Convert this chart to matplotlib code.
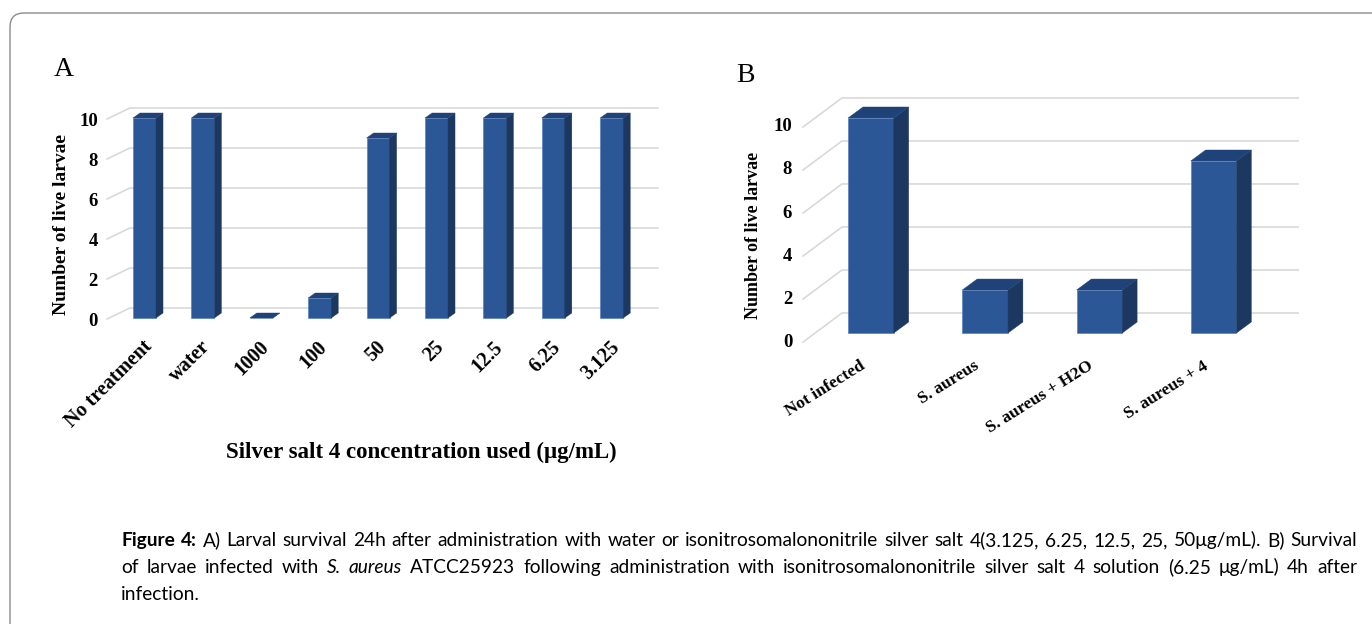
import matplotlib
matplotlib.use('Agg')
import matplotlib.pyplot as plt
from matplotlib.patches import Polygon, FancyBboxPatch
from matplotlib.transforms import IdentityTransform

# данные
cats_a = ['No treatment', 'water', '1000', '100', '50', '25', '12.5', '6.25', '3.125']
vals_a = [10, 10, 0, 1, 9, 10, 10, 10, 10]
cats_b = ['Not infected', 'S. aureus', 'S. aureus + H2O', 'S. aureus + 4']
vals_b = [10, 2, 2, 8]
yticks = [0, 2, 4, 6, 8, 10]

W, H = 1372, 624
FRONT = '#2b5797'
SIDE = '#1c3860'
TOP = '#1f4378'
GRID = '#d9d9d9'
SERIF = 'Liberation Serif'

fig = plt.figure(figsize=(W / 100, H / 100), dpi=100)


def px_axes(l, t, r, b):
    return fig.add_axes([l / W, 1 - b / H, (r - l) / W, (b - t) / H])


def panel(ax, vals, bw, ddx, ddy, fl, bl, xr):
    # сетка на задней стенке + диагонали к передней кромке
    for v in yticks:
        ax.plot([fl[0], bl[0], xr], [v + fl[1], v + bl[1], v + bl[1]],
                color=GRID, lw=1.2, zorder=1, clip_on=False)
    x = list(range(len(vals)))
    ax.bar(x, vals, width=bw, color=FRONT, edgecolor='#4a78bf', linewidth=0.4, zorder=3)
    for i, v in zip(x, vals):
        r = i + bw / 2
        l = i - bw / 2
        ax.add_patch(Polygon([(r, 0), (r + ddx, ddy), (r + ddx, v + ddy), (r, v)],
                             closed=True, fc=SIDE, ec=SIDE, lw=0.3, zorder=3))
        ax.add_patch(Polygon([(l, v), (r, v), (r + ddx, v + ddy), (l + ddx, v + ddy)],
                             closed=True, fc=TOP, ec=TOP, lw=0.3, zorder=3))
    ax.axis('off')


# --- панель A ---
axA = px_axes(100, 95, 660, 330)
axA.set_xlim(-0.762, 8.827)
axA.set_ylim(-0.6, 11.15)
panel(axA, vals_a, 0.394, 0.12, 0.25, (-0.64, -0.05), (-0.25, 0.5), 8.79)
for v in yticks:
    axA.text(-0.8, v - 0.2, str(v), ha='right', va='center',
             family=SERIF, weight='bold', fontsize=13.5)
for i, c in enumerate(cats_a):
    axA.text(i - 0.04, -0.95, c, rotation=45, rotation_mode='anchor', ha='right', va='top',
             family=SERIF, weight='bold', fontsize=14.5)
fig.text(62 / W, 1 - 224 / H, 'Number of live larvae', rotation=90, ha='center', va='center',
         family=SERIF, weight='bold', fontsize=14)
fig.text(421 / W, 1 - 452 / H, 'Silver salt 4 concentration used (\u03bcg/mL)', ha='center', va='center',
         family=SERIF, weight='bold', fontsize=16.5)
fig.text(54 / W, 1 - 70 / H, 'A', ha='left', va='center', family=SERIF, fontsize=20)

# --- панель B ---
axB = px_axes(790, 90, 1305, 350)
axB.set_xlim(-0.709, 3.80)
axB.set_ylim(-0.79, 11.3)
panel(axB, vals_b, 0.40, 0.13, 0.51, (-0.595, -0.42), (-0.254, 0.93), 3.74)
for v in yticks:
    axB.text(-0.69, v - 0.42, str(v), ha='right', va='center',
             family=SERIF, weight='bold', fontsize=13.5)
for i, c in enumerate(cats_b):
    axB.text(i - 0.1, -1.15, c, rotation=32, rotation_mode='anchor', ha='right', va='top',
             family=SERIF, weight='bold', fontsize=12.5)
fig.text(754 / W, 1 - 235 / H, 'Number of live larvae', rotation=90, ha='center', va='center',
         family=SERIF, weight='bold', fontsize=13)
fig.text(736 / W, 1 - 75 / H, 'B', ha='left', va='center', family=SERIF, fontsize=20)

# рамка
fig.add_artist(FancyBboxPatch((10, -30), W + 20, H - 12 + 30 - 1,
                              boxstyle='round,pad=0,rounding_size=14',
                              fc='none', ec='#8c8c8c', lw=1.0, transform=IdentityTransform()))

# подпись с выравниванием по ширине
lines = [
    [('Figure 4:', 'bold', 'normal'),
     ('A) Larval survival 24h after administration with water or isonitrosomalononitrile silver salt '
      '4(3.125, 6.25, 12.5, 25, 50\u03bcg/mL). B) Survival', 'normal', 'normal')],
    [('of larvae infected with', 'normal', 'normal'), ('S. aureus', 'normal', 'italic'),
     ('ATCC25923 following administration with isonitrosomalononitrile silver salt 4 solution '
      '(6.25 \u03bcg/mL) 4h after', 'normal', 'normal')],
    [('infection.', 'normal', 'normal')],
]
x0, x1 = 121, 1357
ys = [546, 573, 600]  # базовые линии
CAP_FS = 13.8
rend = fig.canvas.get_renderer()
for li, (segs, y) in enumerate(zip(lines, ys)):
    words = []
    for txt, wt, st in segs:
        for w in txt.split(' '):
            words.append((w, wt, st))
    arts = []
    total = 0
    for w, wt, st in words:
        t = fig.text(0, 1 - y / H, w, ha='left', va='baseline', family='Lato',
                     fontsize=CAP_FS, weight=wt, style=st)
        wd = t.get_window_extent(rend).width
        arts.append((t, wd))
        total += wd
    if li < 2:
        gap = max((x1 - x0 - total) / (len(words) - 1), 2)
    else:
        gap = 4.5
    x = x0
    for t, wd in arts:
        t.set_x(x / W)
        x += wd + gap

fig.savefig('out.png', dpi=100)
